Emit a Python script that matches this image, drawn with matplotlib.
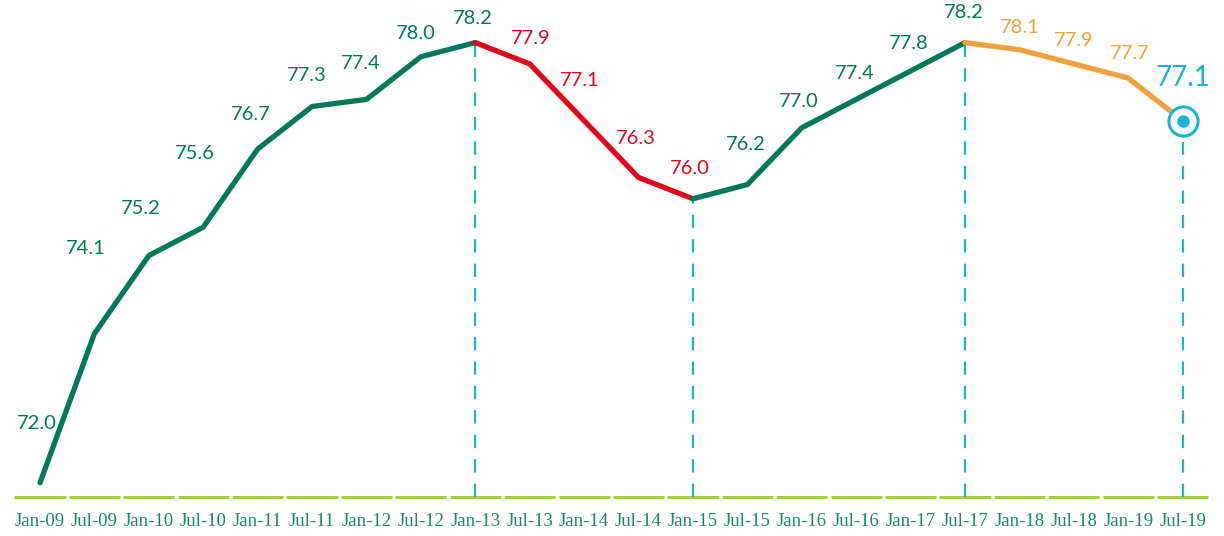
import matplotlib
matplotlib.use('Agg')
import matplotlib.pyplot as plt

# data
periods = ['Jan-09', 'Jul-09', 'Jan-10', 'Jul-10', 'Jan-11', 'Jul-11', 'Jan-12', 'Jul-12',
           'Jan-13', 'Jul-13', 'Jan-14', 'Jul-14', 'Jan-15', 'Jul-15', 'Jan-16', 'Jul-16',
           'Jan-17', 'Jul-17', 'Jan-18', 'Jul-18', 'Jan-19', 'Jul-19']
values = [72.0, 74.1, 75.2, 75.6, 76.7, 77.3, 77.4, 78.0, 78.2, 77.9, 77.1,
          76.3, 76.0, 76.2, 77.0, 77.4, 77.8, 78.2, 78.1, 77.9, 77.7, 77.1]
# segments: (start index, end index, colour)
segments = [(0, 8, 'green'), (8, 12, 'red'), (12, 17, 'green'), (17, 21, 'orange')]
markers_at = [8, 12, 17, 21]

colors = {'green': '#00795a', 'red': '#e1061b', 'orange': '#f2a03c', 'blue': '#1bb2d8'}
axis_col = '#a3cf36'
tick_col = '#16876a'

# label offsets in points (dx, dy), hand placed
offsets = [(-2, 43), (-6, 61), (-6, 34), (-6, 53), (-5, 25), (-4, 22), (-4, 26), (-4, 17),
           (-2, 17), (1, 18), (-3, 29), (-2, 28), (-2, 22), (-1, 29), (-2, 19), (-1, 19),
           (-1, 20), (-1, 22), (0, 16), (0, 17), (1, 18), (0, 31)]

fig = plt.figure(figsize=(12.24, 5.36), dpi=100)
ax = fig.add_axes([0, 0, 1, 1])
x = list(range(len(periods)))

base = 71.80
ax.set_xlim(-0.735, 21.76)
ax.set_ylim(71.25, 78.80)

for s, e, c in segments:
    ax.plot(x[s:e + 1], values[s:e + 1], color=colors[c], lw=3.8,
            solid_capstyle='round', solid_joinstyle='round', zorder=3)

# dashed drop lines
for i in markers_at:
    top = values[i] if i != 21 else values[i] - 0.3
    ax.plot([i, i], [base, top], color=colors['blue'], lw=1.6,
            dashes=(6, 5), zorder=2)

# end marker
ax.plot(x[-1], values[-1], 'o', ms=21, mfc='white', mec=colors['blue'], mew=2.2, zorder=4)
ax.plot(x[-1], values[-1], 'o', ms=8, color=colors['blue'], zorder=5)

# axis line in segments
for i in x:
    ax.plot([i - 0.47, i + 0.47], [base, base], color=axis_col, lw=2.2,
            solid_capstyle='butt', zorder=1)

# value labels
def label_color(i):
    if 9 <= i <= 12:
        return colors['red']
    if 18 <= i <= 20:
        return colors['orange']
    if i == 21:
        return colors['blue']
    return colors['green']

for i, v in enumerate(values):
    dx, dy = offsets[i]
    ax.annotate(f'{v:.1f}', (i, v), xytext=(dx, dy), textcoords='offset points',
                ha='center', va='center', color=label_color(i),
                fontsize=20 if i == 21 else 14.5, family='Lato')

# tick labels
for i, p in enumerate(periods):
    ax.text(i, 71.46, p, ha='center', va='center', color=tick_col,
            fontsize=13.5, family='Liberation Serif')

ax.axis('off')
fig.savefig('out.png', dpi=100)
